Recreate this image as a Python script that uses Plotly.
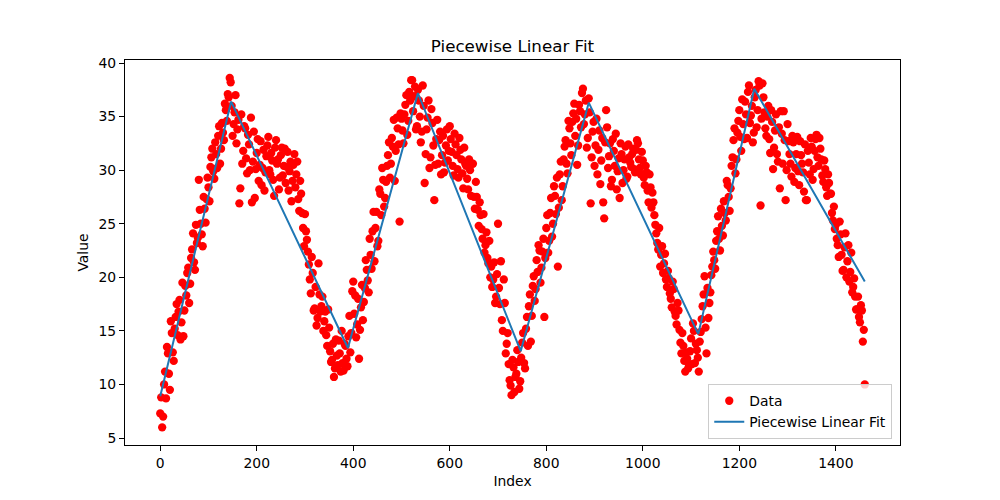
import numpy as np
import plotly.graph_objects as go

# values, two interleaved samplings of the index
index_a = np.arange(0, 1461, 4)
values_a = [
    # 0 - 96
    7.3, 6.0, 10.0, 8.7, 12.9, 9.5, 14.8, 12.2, 16.3, 14.6, 17.9, 15.8, 14.5,
    19.2, 20.4, 17.6, 21.8, 24.1, 20.7, 23.2, 29.1, 25.0, 22.9, 26.4, 27.3,
    # 100 - 196
    28.4, 30.3, 32.0, 29.2, 31.5, 33.2, 30.6, 34.4, 32.8, 35.6, 37.1, 38.6, 36.0,
    34.3, 37.0, 33.8, 26.9, 35.2, 31.8, 33.9, 29.7, 32.4, 34.9, 30.8, 27.4,
    # 200 - 296
    31.6, 29.0, 32.7, 30.2, 28.1, 31.3, 33.1, 29.6, 30.9, 27.6, 32.8, 31.0, 29.3,
    32.1, 30.4, 28.8, 31.7, 29.9, 27.1, 30.5, 28.4, 30.8, 26.2, 27.8, 24.6,
    # 300 - 396
    25.9, 23.5, 21.2, 18.5, 20.4, 17.1, 15.5, 21.3, 16.8, 18.2, 15.9, 14.6, 17.0,
    13.1, 12.3, 10.7, 14.2, 11.8, 12.9, 15.0, 11.3, 13.6, 11.7, 16.4, 14.8,
    # 400 - 496
    19.6, 18.3, 15.6, 12.4, 17.2, 16.0, 19.0, 20.7, 18.6, 22.1, 24.3, 21.5, 26.1,
    23.4, 27.8, 30.2, 26.6, 28.9, 31.4, 29.3, 33.0, 34.7, 31.8, 33.9, 25.2,
    # 500 - 596
    34.8, 32.5, 36.1, 33.3, 37.3, 38.4, 35.5, 37.8, 34.1, 36.5, 32.6, 37.9, 28.8,
    33.8, 36.5, 31.2, 34.4, 27.2, 32.9, 30.6, 33.6, 31.4, 29.8, 32.3, 30.9,
    # 600 - 696
    34.1, 31.7, 29.5, 32.4, 30.1, 33.0, 31.0, 28.3, 30.6, 29.2, 31.0, 27.6, 30.6,
    26.4, 27.5, 24.8, 25.8, 23.6, 22.3, 24.2, 21.3, 20.0, 19.1, 21.4, 18.2,
    # 700 - 796
    25.0, 17.5, 16.0, 19.8, 12.9, 14.8, 10.4, 9.0, 11.6, 10.7, 13.2, 9.6, 12.5,
    14.8, 11.5, 16.3, 17.3, 14.0, 19.2, 17.8, 21.6, 23.0, 19.5, 22.4, 16.3,
    # 800 - 896
    24.6, 22.3, 26.0, 23.8, 28.5, 25.9, 21.0, 29.6, 27.2, 31.0, 32.8, 29.7, 33.9,
    31.4, 35.3, 33.2, 30.5, 36.1, 34.0, 37.6, 35.2, 32.1, 36.7, 26.9, 33.6,
    # 900 - 996
    30.4, 34.8, 31.9, 28.7, 33.0, 25.5, 35.6, 30.2, 32.5, 29.1, 31.8, 33.4, 29.9,
    27.4, 31.5, 30.0, 32.2, 29.4, 31.2, 30.3, 32.0, 29.8, 32.8, 31.0, 29.6,
    # 1000 - 1096
    30.9, 28.6, 29.8, 27.0, 28.4, 27.9, 25.8, 24.1, 22.6, 21.0, 22.9, 21.3, 19.8,
    20.6, 18.5, 17.2, 18.9, 16.4, 17.6, 15.1, 12.9, 13.6, 11.2, 12.4, 11.8,
    # 1100 - 1196
    14.3, 15.7, 12.0, 13.2, 11.2, 14.9, 17.3, 20.1, 12.9, 16.2, 18.6, 21.0, 21.6,
    23.4, 25.7, 22.5, 24.8, 27.1, 25.3, 28.6, 26.2, 30.4, 32.8, 29.7, 33.5,
    # 1200 - 1296
    35.6, 31.8, 34.3, 36.4, 33.0, 37.9, 35.1, 32.6, 36.8, 34.0, 38.3, 26.7, 38.1,
    35.4, 33.2, 36.0, 31.6, 34.5, 32.1, 35.2, 30.8, 28.3, 33.4, 35.5, 27.2,
    # 1300 - 1396
    34.3, 31.5, 29.4, 32.6, 30.2, 33.1, 28.6, 31.4, 29.8, 32.4, 27.2, 30.7, 33.0,
    29.1, 31.8, 33.3, 30.4, 32.0, 29.5, 30.9, 28.4, 29.6, 27.8, 26.0, 26.6,
    # 1400 - 1460
    24.9, 23.0, 25.2, 22.1, 20.7, 24.1, 21.5, 19.6, 22.3, 19.1, 18.2, 17.0, 16.3,
    17.4, 14.0, 10.0,
]

index_b = np.arange(2, 1461, 4)
values_b = [
    # 2 - 98
    8.8, 7.0, 11.2, 13.5, 11.0, 15.9, 13.0, 15.2, 17.5, 16.8, 14.2, 19.5, 16.9,
    18.3, 20.9, 19.4, 22.6, 21.4, 24.9, 23.7, 26.3, 24.0, 27.5, 25.1, 29.3,
    # 102 - 198
    27.1, 31.2, 29.9, 32.6, 30.2, 34.1, 32.0, 33.5, 36.2, 34.6, 36.8, 38.2, 33.2,
    35.4, 32.5, 34.7, 28.3, 30.6, 34.1, 31.1, 33.3, 30.0, 27.0, 33.6, 30.1,
    # 202 - 298
    32.9, 30.5, 28.6, 31.9, 29.8, 32.3, 30.0, 31.6, 29.1, 32.1, 30.6, 28.2, 31.4,
    29.5, 32.0, 30.3, 28.1, 30.8, 29.0, 31.5, 29.6, 27.3, 29.0, 26.0, 22.9,
    # 302 - 398
    24.3, 22.4, 19.8, 21.9, 16.9, 19.1, 16.2, 18.4, 17.3, 15.0, 16.8, 13.6, 15.3,
    12.1, 13.8, 11.5, 12.7, 14.1, 11.2, 12.0, 13.8, 12.4, 14.5, 13.0, 18.7,
    # 402 - 498
    16.6, 14.4, 18.0, 15.1, 19.3, 17.7, 21.6, 19.7, 23.6, 20.8, 26.1, 24.6, 22.9,
    28.2, 25.8, 29.1, 27.4, 30.4, 32.6, 30.6, 32.2, 29.0, 34.9, 32.4, 35.3,
    # 502 - 598
    33.7, 35.2, 37.0, 34.6, 36.5, 38.4, 36.9, 33.8, 37.5, 35.0, 33.6, 36.0, 31.5,
    34.9, 30.2, 35.7, 32.3, 30.5, 34.7, 32.8, 29.6, 33.2, 30.7, 33.8, 31.8,
    # 602 - 698
    32.9, 30.4, 33.4, 31.4, 29.3, 31.9, 29.7, 32.1, 30.4, 28.2, 30.0, 30.6, 27.5,
    28.9, 26.3, 27.0, 24.5, 25.9, 23.0, 21.8, 23.4, 21.0, 19.8, 17.6, 20.3,
    # 702 - 798
    19.0, 21.5, 15.0, 17.6, 13.8, 11.9, 9.9, 12.3, 9.3, 11.0, 12.1, 10.3, 13.9,
    12.0, 15.2, 13.6, 18.4, 16.4, 20.1, 18.9, 20.5, 22.5, 20.9, 23.6, 21.8,
    # 802 - 898
    25.8, 23.4, 27.4, 25.0, 27.6, 29.3, 26.5, 30.8, 28.5, 32.2, 30.6, 34.6, 32.5,
    34.5, 36.2, 34.8, 32.3, 35.5, 37.2, 34.3, 36.5, 33.0, 35.4, 31.2, 34.5,
    # 902 - 998
    32.3, 29.6, 33.7, 30.9, 27.0, 32.6, 34.0, 31.3, 28.5, 32.9, 30.4, 28.2, 31.1,
    32.5, 28.8, 31.0, 29.2, 32.4, 30.7, 31.5, 30.1, 31.9, 32.5, 30.2, 31.7,
    # 1002 - 1098
    29.3, 30.4, 28.1, 29.6, 26.5, 27.0, 24.9, 23.2, 24.6, 22.1, 20.4, 22.2, 19.1,
    19.9, 18.0, 19.6, 16.8, 15.6, 16.9, 13.9, 14.8, 12.2, 13.0, 11.5, 13.1,
    # 1102 - 1198
    11.9, 15.0, 13.8, 12.5, 14.0, 16.1, 18.4, 15.3, 19.0, 17.6, 20.2, 22.4, 20.8,
    24.3, 23.6, 26.4, 23.9, 26.0, 29.0, 27.5, 28.3, 31.2, 33.9, 31.0, 34.6,
    # 1202 - 1298
    33.1, 36.6, 32.9, 35.2, 37.3, 34.4, 36.0, 33.5, 37.5, 35.6, 37.9, 34.8, 36.8,
    33.9, 35.0, 32.9, 35.6, 30.1, 33.7, 31.5, 34.0, 35.5, 30.6, 32.8, 30.0,
    # 1302 - 1398
    32.7, 30.6, 33.2, 28.9, 31.5, 29.9, 32.7, 30.6, 28.0, 27.2, 31.8, 29.6, 32.2,
    30.1, 32.9, 31.2, 33.0, 31.0, 28.9, 30.1, 27.6, 28.8, 27.8, 25.3, 24.5,
    # 1402 - 1458
    23.6, 21.9, 24.0, 20.6, 22.8, 20.0, 23.0, 20.5, 18.6, 19.9, 17.0, 18.2, 15.8,
    16.9, 15.1,
]

# breakpoints of the fitted line
fit_x = [0, 147, 389, 534, 747, 888, 1115, 1231, 1460]
fit_y = [8.9, 36.4, 13.4, 37.2, 13.1, 36.3, 14.7, 37.6, 19.6]

index = np.concatenate([index_a, index_b])
values = list(values_a) + list(values_b)

font = dict(family="DejaVu Sans", size=13.9, color="black")

fig = go.Figure()
fig.add_trace(go.Scatter(
    x=index, y=values, mode="markers", name="Data",
    marker=dict(color="red", size=8.3, line=dict(width=0)),
))
fig.add_trace(go.Scatter(
    x=fit_x, y=fit_y, mode="lines", name="Piecewise Linear Fit",
    line=dict(color="#1f77b4", width=2),
))

axis_style = dict(
    showline=True, linecolor="black", linewidth=1, mirror=True,
    ticks="outside", ticklen=5, tickcolor="black", showgrid=False,
    zeroline=False, tickfont=font,
)

# page body adds an 8px offset, margins are reduced to compensate
fig.update_layout(
    width=1000, height=500,
    margin=dict(l=117, r=108, t=52, b=63),
    paper_bgcolor="white", plot_bgcolor="white",
    font=font,
    title=dict(text="Piecewise Linear Fit", x=0.5, xref="paper",
               y=1 - 38 / 500, yref="container", yanchor="middle",
               font=dict(family="DejaVu Sans", size=16.7, color="black")),
    xaxis=dict(range=[-73, 1533], tickvals=list(range(0, 1401, 200)),
               title=dict(text="Index", font=font, standoff=6), **axis_style),
    yaxis=dict(range=[4.35, 40.28], tickvals=list(range(5, 41, 5)),
               title=dict(text="Value", font=font, standoff=6), **axis_style),
    legend=dict(x=0.99, xanchor="right", y=0.015, yanchor="bottom",
                bgcolor="rgba(255,255,255,0.8)", bordercolor="#cccccc",
                borderwidth=1, font=font, tracegroupgap=2),
    showlegend=True,
)

fig.write_html("out.html")
